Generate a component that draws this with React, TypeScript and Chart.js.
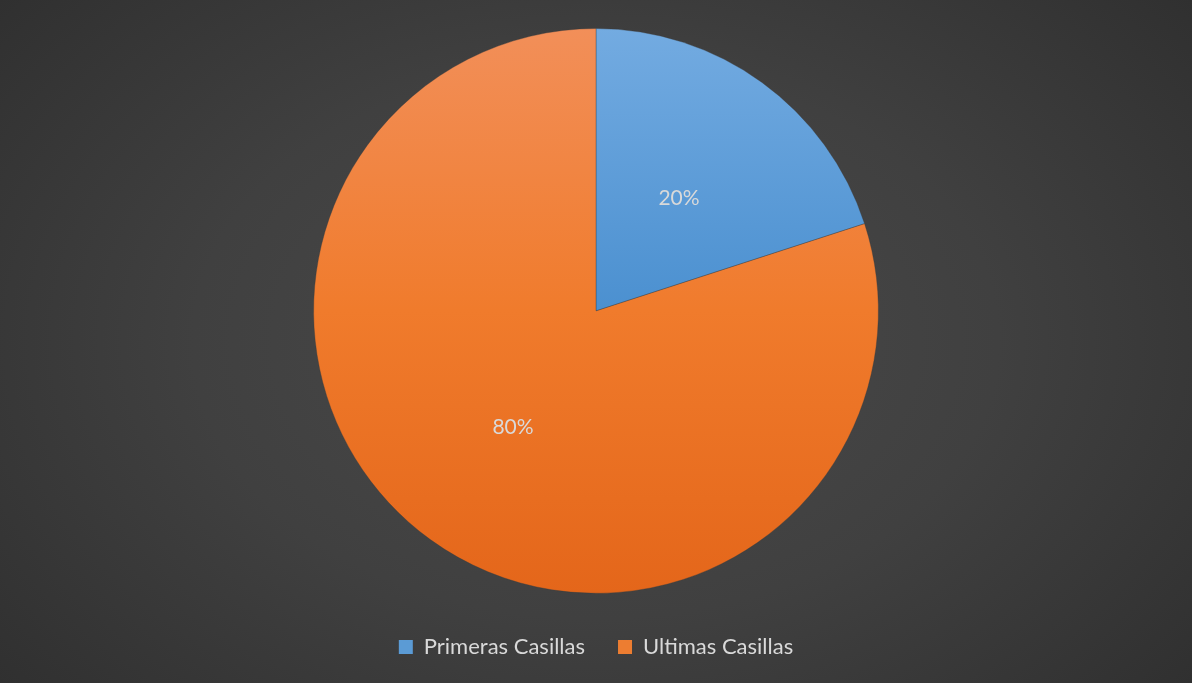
import React, { useEffect, useRef } from "react";
import { Chart, registerables } from "chart.js";

Chart.register(...registerables);

const categories: string[] = ["Primeras Casillas", "Ultimas Casillas"];
const values: number[] = [20, 80];
const percentLabels: string[] = ["20%", "80%"];

const gradStops: string[][] = [
  ["#73abe1", "#4b90d0", "#3a82c8"],
  ["#f28f59", "#f07b2c", "#e4661a"],
];
const legendColors: string[] = ["#5b9bd5", "#ed7d31"];

const labelPlugin = {
  id: "pctLabels",
  afterDatasetsDraw(chart: any) {
    const ctx = chart.ctx;
    const meta = chart.getDatasetMeta(0);
    ctx.save();
    ctx.font = '21px Lato, "Open Sans", sans-serif';
    ctx.fillStyle = "#d9d9d9";
    ctx.textAlign = "center";
    ctx.textBaseline = "middle";
    meta.data.forEach((arc: any, i: number) => {
      const p = arc.tooltipPosition();
      ctx.fillText(percentLabels[i], p.x, p.y + 2);
    });
    ctx.restore();
  },
};

export default function App() {
  const ref = useRef<HTMLCanvasElement | null>(null);

  useEffect(() => {
    document.body.style.margin = "0";
    const canvas = ref.current;
    if (!canvas) return;
    const chart = new Chart(canvas, {
      type: "pie",
      data: {
        labels: categories,
        datasets: [
          {
            data: values,
            backgroundColor: (c: any) => {
              const area = c.chart.chartArea;
              if (!area) return legendColors[c.dataIndex];
              const g = c.chart.ctx.createLinearGradient(0, area.top, 0, area.bottom);
              const s = gradStops[c.dataIndex];
              g.addColorStop(0, s[0]);
              g.addColorStop(0.5, s[1]);
              g.addColorStop(1, s[2]);
              return g;
            },
            borderColor: "rgba(60,60,60,0.35)",
            borderWidth: 1,
          },
        ],
      },
      options: {
        animation: false,
        responsive: false,
        layout: { padding: { top: 28, left: 312, right: 312, bottom: 15 } },
        plugins: {
          tooltip: { enabled: false },
          legend: {
            position: "bottom",
            title: { display: true, text: "", font: { size: 1 }, padding: { top: 4, bottom: 4 } },
            labels: {
              color: "#d9d9d9",
              font: { size: 22, family: 'Lato, "Open Sans", sans-serif' },
              boxWidth: 14,
              boxHeight: 14,
              padding: 33,
              generateLabels: () =>
                categories.map((t, i) => ({
                  text: t,
                  fillStyle: legendColors[i],
                  strokeStyle: legendColors[i],
                  lineWidth: 0,
                  fontColor: "#d9d9d9",
                  index: i,
                  hidden: false,
                })),
            },
          },
        },
      },
      plugins: [labelPlugin],
    });
    return () => chart.destroy();
  }, []);

  return (
    <div
      style={{
        position: "fixed",
        left: 0,
        top: 0,
        width: 1192,
        height: 683,
        background: "radial-gradient(ellipse 75% 90% at 50% 50%, #4a4a4a 0%, #404040 45%, #2b2b2b 100%)",
      }}
    >
      <canvas ref={ref} width={1192} height={683} style={{ display: "block" }} />
    </div>
  );
}
